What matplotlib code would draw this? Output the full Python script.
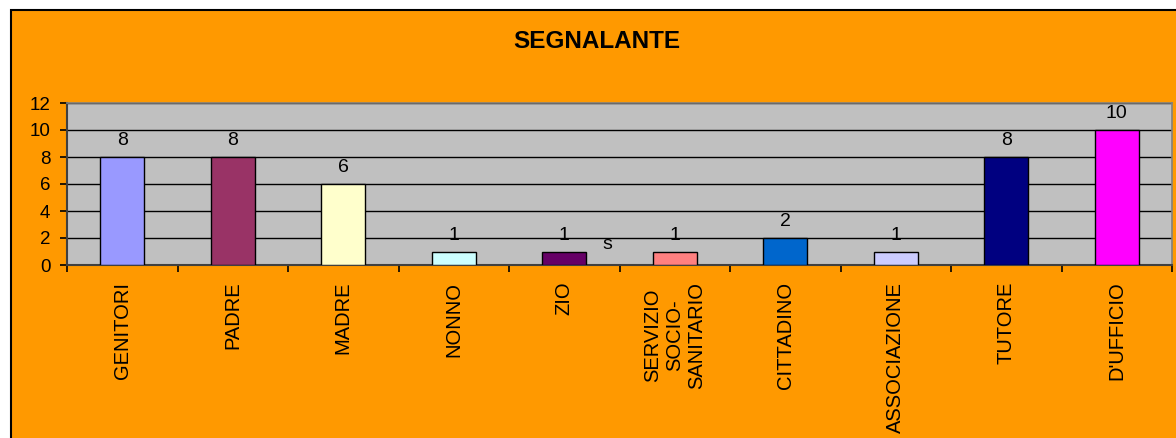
import matplotlib.pyplot as plt
import matplotlib.patches as patches
import numpy as np

plt.rcParams['font.family'] = ['Liberation Sans', 'DejaVu Sans']

categories = ["GENITORI", "PADRE", "MADRE", "NONNO", "ZIO",
              "SERVIZIO\nSOCIO-\nSANITARIO", "CITTADINO", "ASSOCIAZIONE",
              "TUTORE", "D'UFFICIO"]
values = [8, 8, 6, 1, 1, 1, 2, 1, 8, 10]
colors = ["#9999FF", "#993366", "#FFFFCC", "#CCFFFF", "#660066",
          "#FF8080", "#0066CC", "#CCCCFF", "#000080", "#FF00FF"]

W, H = 1176, 438
fig = plt.figure(figsize=(W / 100, H / 100), dpi=100, facecolor='white')

# orange chart area with black frame (extends off right/bottom edge)
bg = patches.Rectangle((10.5 / W, -0.05), 1.1, 1 - 10.5 / H + 0.05,
                       transform=fig.transFigure, facecolor='#FF9900',
                       edgecolor='black', linewidth=1.5, zorder=-5)
fig.patches.append(bg)

ax = fig.add_axes([67 / W, (H - 265) / H, (1172 - 67) / W, (265 - 103) / H])
ax.set_facecolor('#C0C0C0')

x = np.arange(len(categories))
bars = ax.bar(x, values, width=0.4, color=colors, edgecolor='black',
              linewidth=1, zorder=3)

for xi, v in zip(x, values):
    ax.annotate(str(v), (xi, v), xytext=(0, 8.5), textcoords='offset points',
                ha='center', va='baseline', fontsize=14)

# stray label from the original sheet
ax.text(4.39, 1.5, "s", ha='center', va='center', fontsize=14)

ax.set_xlim(-0.5, len(categories) - 0.5)
ax.set_ylim(0, 12)
ax.set_yticks(range(0, 13, 2))
ax.yaxis.grid(True, color='black', linewidth=1, zorder=1)
ax.set_axisbelow(True)

ax.set_xticks(x)
ax.set_xticklabels(categories, rotation=90, fontsize=14.5, va='top',
                   ha='center', multialignment='center')
ax.set_xticks(np.arange(-0.5, len(categories)), minor=True)
ax.tick_params(axis='x', which='major', length=0, pad=12)
ax.tick_params(axis='x', which='minor', length=5, width=1.2, direction='out')
ax.tick_params(axis='y', length=5, width=1.2, labelsize=13.5, pad=7)

for s in ['left', 'bottom']:
    ax.spines[s].set_color('#404040')
    ax.spines[s].set_linewidth(1.5)
for s in ['top', 'right']:
    ax.spines[s].set_color('#808080')
    ax.spines[s].set_linewidth(1.2)

fig.text(597 / W, 1 - 41 / H, "SEGNALANTE", ha='center', va='center',
         fontsize=17.5, fontweight='bold')

fig.savefig('out.png', dpi=100, facecolor=fig.get_facecolor())
